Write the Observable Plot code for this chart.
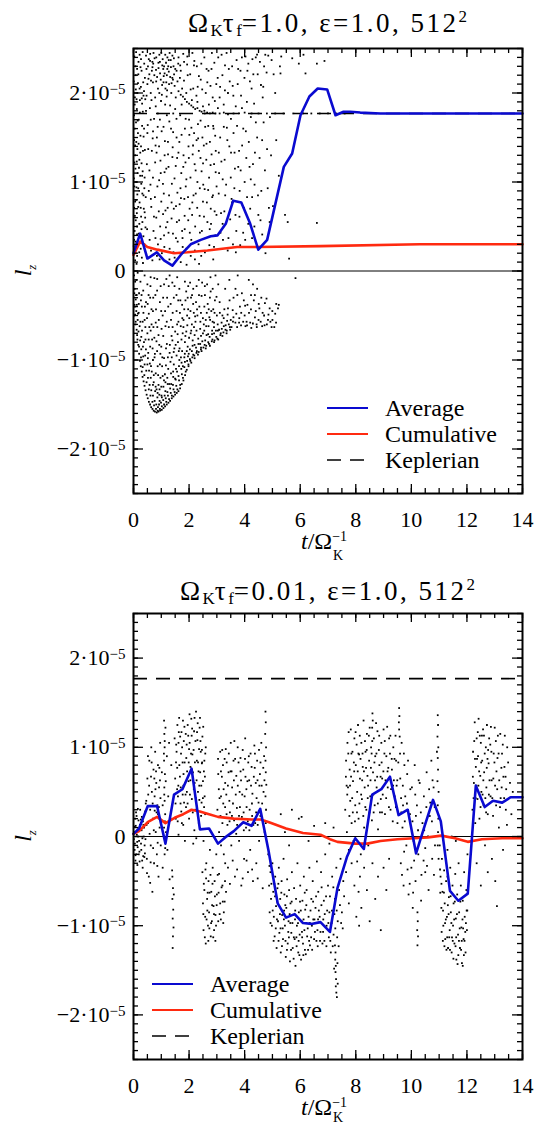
<!DOCTYPE html>
<html><head><meta charset="utf-8">
<script src="https://cdn.jsdelivr.net/npm/d3@7"></script>
<script src="https://cdn.jsdelivr.net/npm/@observablehq/plot@0.6"></script>
<style>
body{margin:0;background:#fff;}
#wrap{position:relative;width:537px;height:1124px;overflow:hidden;font-family:"Liberation Serif","Times New Roman",Times,"DejaVu Serif",serif;color:#000;}
.title{position:absolute;left:133px;width:389px;text-align:center;font-size:27px;line-height:26px;letter-spacing:2.5px;white-space:nowrap;}
.title sub{font-size:17px;vertical-align:-4px;line-height:0;letter-spacing:0}
.title sup{font-size:17px;vertical-align:10px;line-height:0;letter-spacing:0}
.panel{position:absolute;left:0;}
</style></head><body>
<div id="wrap">
<div class="title" style="top:10px">Ω<sub>K</sub>τ<sub>f</sub>=1.0, ε=1.0, 512<sup>2</sup></div>
<div class="panel" id="p1" style="top:40px"></div>
<div class="title" style="top:578px">Ω<sub>K</sub>τ<sub>f</sub>=0.01, ε=1.0, 512<sup>2</sup></div>
<div class="panel" id="p2" style="top:604px"></div>
</div>
<script>
// ---------- data (y in units of 1e-5) ----------
const xTicks = [0, 2, 4, 6, 8, 10, 12, 14];
const yTicks = [-2, -1, 0, 1, 2];
const yTickLabels = ["−2·10", "−1·10", "0", "1·10", "2·10"];
const yTickExponent = "−5";
const keplerian = 1.77;
const legendLabels = ["Average", "Cumulative", "Keplerian"];

const avgTop = [[0,0.2],[0.24,0.42],[0.5,0.14],[0.84,0.21],[1.1,0.12],[1.4,0.06],[1.7,0.18],[2.06,0.30],[2.42,0.35],[2.78,0.39],[3.02,0.40],[3.32,0.53],[3.59,0.79],[3.88,0.77],[4.19,0.54],[4.49,0.24],[4.81,0.35],[5.11,0.76],[5.41,1.17],[5.71,1.32],[6.01,1.75],[6.33,1.96],[6.63,2.05],[6.97,2.04],[7.27,1.75],[7.56,1.79],[7.8,1.79],[8.16,1.78],[8.88,1.77],[14,1.77]];
const cumTop = [[0,0.18],[0.24,0.33],[0.5,0.27],[0.86,0.24],[1.46,0.20],[1.94,0.21],[2.66,0.23],[3.73,0.27],[4.45,0.27],[6.73,0.28],[10.3,0.30],[14,0.30]];

const avgBottom = [[0,0.03],[0.2,0.09],[0.51,0.34],[0.85,0.34],[1.15,-0.08],[1.46,0.47],[1.76,0.53],[2.09,0.76],[2.39,0.08],[2.72,0.09],[3.04,-0.08],[3.3,-0.01],[3.61,0.06],[3.95,0.16],[4.25,0.12],[4.56,0.31],[4.86,-0.16],[5.19,-0.75],[5.49,-0.91],[5.8,-0.87],[6.1,-0.97],[6.4,-0.98],[6.73,-0.96],[7.07,-1.07],[7.34,-0.58],[7.68,-0.23],[7.98,-0.02],[8.29,-0.14],[8.59,0.47],[8.92,0.53],[9.23,0.67],[9.54,0.24],[9.87,0.30],[10.17,-0.19],[10.47,0.11],[10.78,0.41],[11.06,0.17],[11.39,-0.61],[11.69,-0.72],[12.03,-0.64],[12.32,0.57],[12.64,0.33],[12.94,0.40],[13.27,0.38],[13.57,0.44],[14,0.44]];
const cumBottom = [[0,0.03],[0.2,0.06],[0.51,0.16],[0.85,0.22],[1.15,0.15],[1.48,0.21],[1.79,0.25],[2.09,0.30],[2.39,0.28],[2.72,0.25],[3.04,0.22],[3.61,0.20],[4.25,0.19],[4.58,0.19],[4.88,0.16],[5.49,0.09],[6.1,0.04],[6.73,0.02],[7.07,-0.03],[7.34,-0.06],[7.98,-0.08],[8.41,-0.08],[8.89,-0.05],[9.5,-0.03],[10.1,-0.02],[10.6,-0.01],[11.08,0.01],[11.57,-0.02],[12.03,-0.06],[12.54,-0.03],[13.27,-0.02],[14,-0.02]];

const dotsTop = [
[0.03,2.41],[0.08,2.2],[0.05,1.95],[0.12,1.82],[0.04,1.6],[0.1,1.45],[0.06,1.3],[0.15,1.1],[0.03,0.95],[0.09,0.8],[0.05,0.62],[0.13,0.5],[0.02,0.35],[0.08,0.2],[0.11,0.08],[0.18,2.35],[0.22,2.05],[0.19,1.7],[0.25,1.52],[0.21,1.25],[0.28,0.98],[0.17,0.72],[0.24,0.4],[0.3,0.15],[0.33,2.46],[0.35,2.12],[0.31,1.88],[0.38,1.6],[0.34,1.35],[0.4,1.05],[0.36,0.85],[0.32,0.55],[0.39,0.3],[0.07,2.3],[0.14,2.0],[0.02,1.75],[0.16,1.55],[0.07,1.15],[0.2,0.9],[0.12,0.65],[0.26,0.25],[0.04,0.45],[0.29,2.25],[0.23,1.92],[0.27,1.4],[0.1,1.0],[0.37,0.7],[0.15,0.3],[0.06,0.12],[0.33,1.12],
[0.45,2.42],[0.52,2.3],[0.6,2.44],[0.68,2.35],[0.75,2.2],[0.82,2.4],[0.9,2.28],[0.98,2.15],[1.05,2.38],[1.12,2.22],[1.18,2.12],[1.25,2.3],[1.32,2.18],[1.4,2.42],[1.48,2.08],[1.55,2.25],[0.5,2.1],[0.62,2.0],[0.7,2.12],[0.78,1.95],[0.88,2.05],[0.95,2.35],[1.02,1.98],[1.1,2.3],[1.15,2.05],[1.22,2.4],[1.28,2.1],[1.36,2.0],[1.44,2.3],[1.52,1.95],[0.55,2.38],[0.72,2.45],[0.85,2.18],[1.0,2.45],[1.08,2.12],[1.2,2.2],[1.3,2.45],[1.42,2.15],[0.93,2.0],[0.66,2.25],
[0.45,1.8],[0.5,1.55],[0.48,1.2],[0.55,0.9],[0.42,0.6],[0.58,0.35],[0.62,1.7],[0.66,1.35],[0.7,1.05],[0.64,0.72],[0.72,0.45],[0.68,0.12],[0.8,1.85],[0.84,1.5],[0.78,1.22],[0.86,0.95],[0.82,0.6],[0.88,0.3],[0.95,1.7],[0.92,1.4],[0.98,1.1],[1.0,0.78],[0.96,0.5],[1.02,0.2],[1.08,1.62],[1.12,1.3],[1.06,0.98],[1.15,0.68],[1.1,0.4],[1.2,1.75],[1.24,1.45],[1.18,1.15],[1.28,0.85],[1.22,0.55],[1.3,0.25],[1.35,1.6],[1.4,1.28],[1.38,0.98],[1.45,0.7],[1.42,0.42],[1.5,1.82],[1.55,1.5],[1.52,1.18],[1.58,0.88],[1.56,0.55],[1.48,0.15],
[1.62,2.02],[1.7,1.98],[1.78,1.96],[1.85,1.93],[1.92,1.9],[2.0,1.88],[2.08,1.86],[2.15,1.84],[2.22,1.82],[2.3,1.83],[2.38,1.8],[2.45,1.79],[2.55,1.8],[2.65,1.78],[2.75,1.77],[2.85,1.78],[2.95,1.77],[3.1,1.77],[3.25,1.78],[3.4,1.76],[3.6,1.77],[3.8,1.77],[4.0,1.78],[4.25,1.77],[4.5,1.77],[4.8,1.77],[5.1,1.77],[5.4,1.77],[5.75,1.77],[6.1,1.77],[6.4,1.77],[6.7,1.77],[7.0,1.77],[7.3,1.77],[7.6,1.77],[1.75,2.05],[1.9,2.0],[2.1,1.92],[2.3,1.9],[2.5,1.85],
[1.62,2.4],[1.7,2.25],[1.68,1.75],[1.65,1.45],[1.72,1.1],[1.66,0.75],[1.75,0.45],[1.7,0.1],[1.82,2.35],[1.85,1.6],[1.8,1.3],[1.88,0.95],[1.84,0.62],[1.9,0.25],[1.95,2.2],[2.0,1.7],[1.98,1.4],[2.05,1.05],[2.02,0.7],[2.08,0.35],[2.12,2.45],[2.15,2.05],[2.18,1.55],[2.2,1.2],[2.16,0.85],[2.22,0.5],[2.28,2.3],[2.32,1.65],[2.35,1.35],[2.3,1.0],[2.38,0.62],[2.34,0.3],[2.42,2.15],[2.48,1.5],[2.45,1.12],[2.5,0.78],[2.46,0.45],[2.55,2.4],[2.6,2.0],[2.58,1.62],[2.62,1.25],[2.56,0.92],[2.66,0.55],[2.7,2.25],[2.75,1.45],[2.72,1.05],[2.78,0.7],[2.82,2.45],[2.85,1.95],[2.88,1.6],[2.9,1.2],[2.86,0.85],[2.95,0.4],[2.98,2.1],[2.96,1.35],[2.99,0.95],
[3.05,2.4],[3.1,1.95],[3.12,1.5],[3.08,1.1],[3.15,0.65],[3.2,2.2],[3.25,1.62],[3.28,1.25],[3.3,0.85],[3.35,2.45],[3.4,2.0],[3.45,1.4],[3.5,1.05],[3.48,0.58],[3.55,2.3],[3.6,1.55],[3.65,1.15],[3.7,0.45],[3.75,2.1],[3.8,1.35],[3.82,0.9],[3.9,2.4],[3.95,1.6],[4.0,1.0],[4.02,0.35],[4.1,2.25],[4.15,1.45],[4.2,0.7],[4.25,2.05],[4.3,1.2],[4.35,0.5],[4.4,2.4],[4.45,1.5],[4.48,0.85],[3.58,0.3],[3.85,2.25],[4.08,1.9],[3.68,1.85],[3.22,0.35],[4.28,2.38],
[4.55,2.35],[4.65,1.95],[4.6,0.9],[4.7,2.3],[4.75,0.2],[4.85,2.42],[4.95,1.3],[5.27,2.3],[5.29,2.22],[5.55,0.55],[5.6,0.14],[5.83,-0.08],[5.95,2.33],[6.19,2.22],[6.6,2.33],[6.6,0.54],[4.9,0.55],[5.1,2.0],
[0.02,-0.05],[0.04,-0.2],[0.08,-0.32],[0.1,-0.45],[0.15,-0.55],[0.18,-0.68],[0.24,-0.78],[0.28,-0.88],[0.35,-0.96],[0.4,-1.05],[0.46,-1.12],[0.52,-1.2],[0.58,-1.28],[0.64,-1.34],[0.7,-1.4],[0.76,-1.46],[0.82,-1.5],[0.88,-1.53],[0.95,-1.55],[1.02,-1.52],[1.1,-1.5],[1.18,-1.47],[1.28,-1.44],[1.38,-1.4],[1.48,-1.36],[1.58,-1.33],[1.68,-1.28],[1.78,-1.2],[1.88,-1.13],[1.98,-1.07],[2.08,-1.03],[2.2,-0.98],[2.32,-0.94],[2.45,-0.9],[2.6,-0.87],[2.75,-0.84],[2.9,-0.8],[3.05,-0.77],[3.2,-0.73],[3.35,-0.7],[3.48,-0.66],
[0.06,-0.12],[0.12,-0.38],[0.16,-0.48],[0.22,-0.62],[0.28,-0.74],[0.34,-0.85],[0.42,-0.95],[0.5,-1.05],[0.56,-1.12],[0.62,-1.2],[0.7,-1.28],[0.78,-1.35],[0.86,-1.42],[0.94,-1.46],[1.02,-1.42],[1.12,-1.4],[1.22,-1.36],[1.32,-1.32],[1.42,-1.28],[1.52,-1.22],[1.62,-1.18],[1.72,-1.1],[1.85,-1.02],[1.96,-0.96],[2.1,-0.9],[2.25,-0.86],[2.4,-0.82],[2.58,-0.78],[2.74,-0.74],[2.9,-0.7],[3.08,-0.66],[3.25,-0.62],
[0.1,-0.1],[0.2,-0.25],[0.3,-0.4],[0.4,-0.55],[0.5,-0.7],[0.6,-0.85],[0.7,-1.0],[0.8,-1.15],[0.9,-1.28],[1.0,-1.3],[0.25,-0.12],[0.35,-0.22],[0.45,-0.35],[0.55,-0.48],[0.65,-0.6],[0.75,-0.75],[0.85,-0.9],[0.95,-1.05],[1.05,-1.18],[1.15,-1.25],[1.25,-1.1],[1.35,-1.15],[1.45,-1.05],[1.55,-0.95],[1.65,-1.0],[1.75,-0.9],[1.85,-0.8],[1.95,-0.85],[0.5,-0.15],[0.6,-0.3],[0.7,-0.45],[0.8,-0.58],[0.9,-0.72],[1.0,-0.85],[1.1,-0.98],[1.2,-0.82],[1.3,-0.92],[1.4,-0.78],[1.5,-0.68],[1.6,-0.8],[1.7,-0.62],[1.8,-0.55],[1.9,-0.68],[2.0,-0.75],[2.1,-0.6],[2.2,-0.72],[2.3,-0.5],[2.4,-0.65],[2.5,-0.7],[2.6,-0.55],[2.7,-0.62],[2.8,-0.45],[2.9,-0.58],[3.0,-0.5],[0.75,-0.08],[0.85,-0.22],[0.95,-0.35],[1.05,-0.5],[1.15,-0.62],[1.25,-0.4],[1.35,-0.55],[1.45,-0.3],[1.55,-0.45],[1.65,-0.2],[1.75,-0.38],[1.85,-0.12],[1.95,-0.3],[2.05,-0.45],[2.15,-0.2],[2.25,-0.35],[2.35,-0.1],[2.45,-0.28],[2.55,-0.4],[2.65,-0.15],[2.75,-0.3],[2.85,-0.2],[2.95,-0.05],[3.1,-0.35],[3.2,-0.5],[3.3,-0.2],[3.4,-0.42],[3.5,-0.55],[3.6,-0.3],[3.7,-0.48],[3.8,-0.58],[3.9,-0.25],[4.0,-0.5],[4.1,-0.38],[4.2,-0.58],[4.3,-0.15],[4.4,-0.45],[4.5,-0.55],[4.6,-0.3],[4.7,-0.5],[4.8,-0.6],[4.9,-0.42],[5.0,-0.55],[5.1,-0.48],[5.2,-0.42],[4.45,-0.2],[4.15,-0.1],[3.75,-0.05],[3.45,-0.1],[3.05,-0.15],[1.1,-0.15],[1.3,-0.05],[0.4,-0.05],[0.15,-0.02],[0.05,-0.4],[0.03,-0.25]
];
const dotsTopMore = [
[0.13,2.27],[0.27,2.38],[0.41,2.17],[0.57,2.21],[0.71,2.33],[0.93,2.43],[1.07,2.27],[1.17,2.34],[1.27,2.24],[1.34,2.37],[1.46,2.21],[1.61,2.33],[0.63,2.14],[0.81,2.26],[1.03,2.09],[1.21,2.03],[1.37,2.11],[0.47,1.97],[0.59,1.83],[0.74,1.71],[0.87,1.62],[0.99,1.91],[1.14,1.87],[1.29,1.68],[1.43,1.77],[0.53,1.37],[0.69,1.49],[0.83,1.33],[0.97,1.24],[1.13,1.46],[1.26,1.17],[1.41,1.39],[1.57,1.27],[0.44,0.83],[0.61,0.97],[0.77,0.83],[0.91,0.67],[1.09,0.87],[1.23,0.71],[1.37,0.59],[1.53,0.73],[0.49,0.47],[0.63,0.23],[0.79,0.37],[0.94,0.13],[1.11,0.27],[1.26,0.43],[1.44,0.21],[1.59,0.33],
[0.01,2.13],[0.09,1.67],[0.14,1.37],[0.03,1.22],[0.17,0.93],[0.08,0.57],[0.21,0.53],[0.01,0.28],[0.13,0.17],[0.26,0.71],[0.31,1.63],[0.36,1.97],[0.22,2.43],[0.02,1.47],[0.11,1.93],[0.19,0.42],[0.29,1.21],[0.39,0.93],[0.06,0.78],[0.24,1.07],
[1.67,2.17],[1.79,2.44],[1.93,2.32],[2.04,2.21],[2.19,2.36],[2.31,2.07],[2.44,2.33],[2.63,2.27],[2.77,2.08],[2.91,2.34],[1.73,1.53],[1.87,1.22],[2.01,1.53],[2.13,1.31],[2.27,1.47],[2.41,1.27],[2.53,1.41],[2.69,1.63],[2.81,1.31],[2.94,1.52],[1.69,0.93],[1.83,0.81],[1.97,0.57],[2.11,0.63],[2.24,0.87],[2.39,0.43],[2.51,0.97],[2.64,0.77],[2.79,0.53],[2.92,0.67],[1.77,0.27],[1.91,0.07],[2.06,0.17],[2.21,0.13],[2.36,0.08],[2.57,0.21],[2.73,0.29],[2.87,0.13],
[3.03,2.17],[3.17,2.43],[3.29,2.03],[3.43,2.27],[3.57,2.08],[3.71,2.37],[3.87,1.97],[4.03,2.41],[4.19,2.13],[4.34,1.88],[4.47,2.21],[3.07,1.33],[3.21,1.03],[3.36,1.61],[3.51,1.33],[3.63,0.93],[3.77,1.17],[3.91,1.41],[4.06,1.27],[4.22,1.03],[4.37,1.33],[3.13,0.43],[3.27,0.67],[3.39,0.23],[3.53,0.81],[3.67,0.63],[3.84,0.29],[3.97,0.71],[4.13,0.53],[4.27,0.83],[4.41,0.27],[4.57,0.57],[4.63,1.47],[4.73,1.13],[4.83,0.93],[4.91,1.73],[4.67,2.07],[4.79,2.23],[4.97,2.37],[5.23,1.07],[5.02,0.73],
[0.07,-0.6],[0.13,-0.72],[0.2,-0.85],[0.27,-0.97],[0.33,-1.08],[0.39,-1.17],[0.47,-1.25],[0.55,-1.33],[0.61,-1.4],[0.68,-1.47],[0.74,-1.51],[0.81,-1.55],[0.87,-1.57],[0.92,-1.5],[0.99,-1.48],[1.07,-1.45],[1.16,-1.43],[1.24,-1.4],[1.34,-1.37],[1.44,-1.33],[1.54,-1.29],[1.64,-1.23],[1.74,-1.16],[1.83,-1.08],[1.93,-1.01],[2.03,-0.99],[2.15,-0.94],[2.28,-0.9],[2.43,-0.86],[2.56,-0.83],[2.69,-0.8],[2.84,-0.77],[2.98,-0.74],[3.14,-0.7],[3.31,-0.66],[3.43,-0.6],[3.58,-0.57],[3.73,-0.63],[3.87,-0.61],[4.03,-0.62],[4.24,-0.64],[4.43,-0.6],[4.63,-0.62],[4.84,-0.55],[4.97,-0.63],[5.13,-0.58],[5.23,-0.38],[4.73,-0.36],[4.53,-0.42],[4.33,-0.33],[0.33,-0.57],[0.43,-0.77],[0.53,-0.92],[0.63,-1.07],[0.73,-1.17],[0.83,-1.33],[0.93,-1.39],[1.03,-1.07],[1.13,-1.16],[1.23,-1.27],[1.33,-1.02],[1.43,-1.19],[1.53,-1.1],[1.63,-0.9],[1.73,-1.03],[1.83,-0.97],[1.93,-0.5],[2.03,-0.88],[2.13,-0.78],[2.23,-0.57],[2.33,-0.76],[2.43,-0.73],[2.53,-0.6],[2.63,-0.72],[2.73,-0.52],[2.83,-0.67],[2.93,-0.33],[3.03,-0.6],[3.17,-0.58],[3.27,-0.43],[3.37,-0.56],[3.57,-0.44],[3.67,-0.2],[3.83,-0.4],[3.97,-0.33],[4.07,-0.57],[4.23,-0.27],[4.37,-0.52],[0.57,-0.63],[0.67,-0.77],[0.77,-0.93],[0.87,-1.07],[0.97,-1.2],[1.07,-0.73],[1.17,-0.87],[1.27,-0.63],[1.37,-0.73],[1.47,-0.87],[1.57,-0.6],[1.67,-0.47],[1.77,-0.7],[1.87,-0.33],[1.97,-0.17],[2.07,-0.3],[2.17,-0.47],[2.27,-0.17],[2.37,-0.4],[2.47,-0.13],[2.57,-0.27],[2.67,-0.37],[2.77,-0.07],[2.87,-0.43],[0.03,-0.5],[0.09,-0.27],[0.19,-0.37],[0.29,-0.27],[0.41,-0.4],[0.51,-0.37],[0.61,-0.17],[0.71,-0.3],[0.81,-0.43],[0.91,-0.55],[1.01,-0.65],[1.21,-0.3],[1.41,-0.47],[1.61,-0.33]
];
const dotsTopExtra = [
[0.016,1.04],[0.043,1.87],[0.071,0.33],[0.094,2.46],[0.117,1.23],[0.138,0.86],[0.161,2.11],[0.183,1.43],[0.206,0.21],[0.229,1.78],[0.252,2.29],[0.274,0.61],[0.297,1.94],[0.318,0.87],[0.341,0.09],[0.363,1.51],[0.386,2.33],[0.409,1.36],[0.431,0.49],[0.024,0.71],[0.057,1.41],[0.083,2.04],[0.106,0.94],[0.128,0.41],[0.152,1.69],[0.174,2.21],[0.197,1.16],[0.219,0.77],[0.243,1.33],[0.266,2.07],[0.288,0.47],[0.311,1.07],[0.334,1.79],[0.356,0.39],[0.378,2.02],[0.401,0.66],[0.424,1.93],
[0.467,2.27],[0.512,1.64],[0.538,2.16],[0.573,1.13],[0.596,2.36],[0.624,0.81],[0.647,1.92],[0.682,2.29],[0.703,1.57],[0.736,0.61],[0.758,2.39],[0.794,1.41],[0.817,2.13],[0.843,0.17],[0.874,1.77],[0.897,2.34],[0.923,1.02],[0.956,2.22],[0.978,0.36],[1.013,1.57],[1.036,2.31],[1.064,0.64],[1.087,2.19],[1.118,1.11],[1.143,2.43],[1.167,0.49],[1.193,1.96],[1.217,2.27],[1.243,1.31],[1.268,2.37],[1.294,0.13],[1.318,1.86],[1.347,2.29],[1.371,0.77],[1.397,2.17],[1.426,1.56],[1.453,2.39],[1.476,1.04],[1.503,2.27],[1.528,0.37],[1.547,1.71],[1.583,2.13],
[1.617,1.33],[1.643,0.57],[1.681,2.31],[1.707,0.82],[1.733,1.87],[1.764,0.37],[1.792,1.17],[1.817,2.14],[1.843,0.47],[1.877,1.71],[1.903,1.03],[1.937,2.41],[1.962,0.83],[1.991,1.27],[2.026,0.43],[2.057,2.04],[2.083,1.61],[2.117,0.77],[2.143,1.41],[2.176,2.31],[2.207,0.23],[2.236,1.13],[2.264,1.97],[2.293,0.71],[2.327,1.49],[2.353,2.19],[2.386,0.93],[2.414,1.69],[2.437,0.17],[2.473,2.04],[2.503,1.21],[2.537,0.61],[2.563,1.77],[2.597,0.37],[2.627,1.43],[2.657,2.12],[2.687,0.91],[2.713,1.87],[2.743,0.47],[2.773,1.19],[2.807,2.27],[2.833,0.83],[2.867,1.63],[2.897,0.27],[2.927,1.91],[2.957,1.11],[2.986,0.63],
[3.037,1.83],[3.067,0.87],[3.117,2.07],[3.163,1.23],[3.207,0.53],[3.247,1.87],[3.293,2.31],[3.333,0.97],[3.377,1.47],[3.417,0.37],[3.463,2.13],[3.507,1.71],[3.547,0.77],[3.593,1.97],[3.637,1.33],[3.683,0.21],[3.727,1.63],[3.767,2.27],[3.813,0.61],[3.857,1.13],[3.903,1.83],[3.947,0.43],[3.993,2.17],[4.043,1.57],[4.087,0.83],[4.133,2.33],[4.177,1.17],[4.223,1.73],[4.267,0.37],[4.313,2.21],[4.357,0.97],[4.403,1.67],[4.447,2.43],[4.493,0.63],[4.537,1.27],[4.587,2.09],[4.633,0.41],[4.683,1.67],[4.743,2.43],[4.807,1.37],[4.873,0.71],[5.043,2.21],[5.137,1.47],[5.317,2.41],[5.453,0.63],[5.713,2.39],[6.117,2.43],[6.873,2.36],
[0.036,-0.38],[0.057,-0.49],[0.078,-0.57],[0.113,-0.66],[0.142,-0.77],[0.171,-0.83],[0.203,-0.93],[0.232,-1.01],[0.262,-1.07],[0.297,-1.13],[0.327,-1.19],[0.363,-1.24],[0.397,-1.29],[0.434,-1.34],[0.473,-1.39],[0.513,-1.43],[0.553,-1.47],[0.597,-1.5],[0.637,-1.53],[0.683,-1.55],[0.727,-1.57],[0.773,-1.58],[0.837,-1.59],[0.897,-1.58],[0.957,-1.57],[1.017,-1.56],[1.077,-1.54],[1.137,-1.52],[1.197,-1.5],[1.257,-1.48],[1.317,-1.46],[1.377,-1.43],[1.437,-1.41],[1.497,-1.39],[1.557,-1.37],[1.617,-1.35],[1.677,-1.32],[1.737,-1.27],[1.797,-1.23],[1.857,-1.17],[1.917,-1.11],[1.977,-1.05],[2.047,-1.01],[2.117,-0.97],[2.187,-0.95],[2.267,-0.92],[2.347,-0.91],[2.427,-0.88],[2.517,-0.86],[2.617,-0.84],[2.717,-0.82],[2.817,-0.79],[2.917,-0.78],[3.017,-0.76],[3.127,-0.72],[3.237,-0.69],[3.357,-0.67],[3.467,-0.63],
[0.117,-0.27],[0.187,-0.47],[0.247,-0.57],[0.307,-0.67],[0.377,-0.8],[0.447,-0.88],[0.517,-0.98],[0.587,-1.04],[0.657,-1.13],[0.727,-1.25],[0.797,-1.3],[0.867,-1.37],[0.937,-1.33],[1.007,-1.4],[1.077,-1.3],[1.147,-1.35],[1.217,-1.2],[1.287,-1.27],[1.357,-1.27],[1.427,-1.13],[1.497,-1.21],[1.567,-1.13],[1.637,-1.07],[1.707,-0.97],[1.777,-1.07],[1.847,-0.93],[1.917,-0.9],[1.987,-0.93],[2.057,-0.7],[2.127,-0.84],[2.197,-0.83],[2.267,-0.67],[2.337,-0.82],[2.407,-0.57],[2.477,-0.79],[2.547,-0.67],[2.617,-0.62],[2.687,-0.71],[2.757,-0.55],[2.827,-0.71],[2.897,-0.63],[2.967,-0.67],[3.037,-0.67],[3.107,-0.47],[3.177,-0.65],[3.247,-0.53],[3.317,-0.61],[3.387,-0.49],[3.457,-0.33],[3.527,-0.63],[3.597,-0.52],[3.667,-0.58],[3.737,-0.27],[3.807,-0.53],[3.877,-0.47],[3.947,-0.57],[4.017,-0.39],[4.087,-0.61],[4.157,-0.47],[4.227,-0.43],[4.297,-0.59],[4.367,-0.27],[4.437,-0.63],[4.507,-0.37],[4.577,-0.57],[4.647,-0.47],[4.717,-0.61],[4.787,-0.31],[4.857,-0.49],[4.927,-0.57],[4.997,-0.45],[5.067,-0.63],[5.137,-0.37],[0.267,-0.33],[0.357,-0.47],[0.427,-0.63],[0.487,-0.53],[0.547,-0.77],[0.617,-0.67],[0.687,-0.87],[0.757,-0.97],[0.827,-0.79],[0.887,-1.17],[0.967,-0.93],[1.037,-0.97],[1.097,-1.23],[1.167,-1.06],[1.237,-0.97],[1.307,-0.83],[1.377,-0.97],[1.447,-0.91],[1.517,-0.83],[1.587,-0.71],[1.657,-0.87],[1.727,-0.77],[1.797,-0.63],[1.867,-0.73],[1.937,-0.61],[2.007,-0.53],[2.077,-0.67],[2.147,-0.37],[2.217,-0.51],[2.287,-0.43],[2.357,-0.27],[2.427,-0.47],[2.497,-0.53],[2.567,-0.17],[2.637,-0.47],[2.707,-0.43],[2.777,-0.23],[2.847,-0.57],[2.917,-0.47],[2.987,-0.29],[0.647,-0.43],[0.717,-0.63],[0.787,-0.27],[0.857,-0.63],[0.927,-0.83],[0.997,-0.45],[1.067,-0.3],[1.137,-0.45],[1.197,-0.57],[1.267,-0.17],[1.337,-0.37],[1.407,-0.63],[1.477,-0.17],[1.547,-0.27],[1.617,-0.57],[1.687,-0.33],[1.757,-0.53],[1.827,-0.43],[1.897,-0.23],[1.967,-0.43],[2.037,-0.13],[2.107,-0.27],[2.177,-0.63],[0.543,-0.27],[0.617,-0.07],[0.853,-0.09],[0.977,-0.17],[1.183,-0.09],[1.397,-0.13],[1.573,-0.07]
];

const dotsBottom = [
[0.02,0.05],[0.05,-0.08],[0.08,0.12],[0.1,-0.2],[0.12,0.02],[0.15,-0.12],[0.18,0.18],[0.2,-0.05],[0.22,-0.28],[0.25,0.08],[0.28,-0.15],[0.3,0.22],[0.32,-0.02],[0.35,-0.22],[0.38,0.1],[0.4,-0.1],[0.42,0.28],[0.06,0.2],[0.14,-0.32],[0.24,0.3],[0.33,-0.35],[0.04,-0.15],[0.17,0.0],[0.27,-0.08],[0.37,0.0],
[0.46,0.4],[0.48,-0.25],[0.5,0.65],[0.52,0.15],[0.55,-0.45],[0.57,0.85],[0.6,0.3],[0.62,-0.1],[0.64,1.0],[0.66,0.5],[0.68,-0.62],[0.7,0.2],[0.72,0.75],[0.74,-0.3],[0.76,0.45],[0.78,0.95],[0.8,0.05],[0.82,0.6],[0.84,-0.2],[0.86,0.35],[0.88,0.8],[0.9,-0.45],[0.92,0.55],[0.94,0.1],[0.96,1.05],[0.98,-0.1],[0.52,0.9],[0.6,-0.52],[0.75,0.65],[0.88,0.25],
[1.1,1.3],[1.11,1.15],[1.12,1.0],[1.1,0.85],[1.13,0.7],[1.11,0.55],[1.12,0.4],[1.14,0.25],[1.1,0.1],[1.13,-0.05],[1.12,-0.2],[1.15,1.22],[1.16,0.62],[1.17,0.05],
[1.4,-0.45],[1.42,-0.58],[1.4,-0.7],[1.43,-0.82],[1.41,-0.92],[1.44,-1.02],[1.42,-1.12],[1.41,-1.25],[1.45,-0.65],[1.39,-0.38],
[1.02,0.72],[1.05,-0.35],[1.2,0.9],[1.22,-0.15],[1.25,0.45],[1.28,1.05],[1.3,-0.48],[1.33,0.2],[1.36,0.8],[1.05,0.35],
[1.48,1.1],[1.5,0.65],[1.52,0.2],[1.55,0.95],[1.58,1.25],[1.6,0.45],[1.62,0.02],[1.65,0.8],[1.68,1.12],[1.7,0.55],[1.72,0.28],[1.75,1.0],[1.78,1.3],[1.8,0.7],[1.82,0.38],[1.85,-0.05],[1.88,1.15],[1.9,0.88],[1.92,0.5],[1.95,1.25],[1.98,0.62],[2.0,0.2],[2.02,1.05],[2.05,0.78],[2.08,1.32],[2.1,0.42],[2.12,0.92],[2.15,-0.08],[2.18,1.18],[2.2,0.6],[2.22,0.3],[2.25,1.4],[2.28,0.85],[2.3,1.08],[2.32,0.5],[2.35,0.15],[2.38,1.22],[2.4,0.72],[2.42,0.95],[2.45,0.38],[2.48,1.12],[2.5,0.62],[2.52,-0.05],[2.55,0.85],[2.58,0.25],[2.6,1.0],[1.62,1.05],[1.74,0.15],[1.86,0.6],[2.0,0.98],[2.14,0.72],[2.26,-0.02],[2.36,0.98],[2.46,0.82],[2.56,0.45],
[2.48,-0.4],[2.5,-0.75],[2.52,-1.05],[2.55,-0.6],[2.58,-0.9],[2.6,-1.2],[2.62,-0.3],[2.65,-0.7],[2.68,-1.0],[2.7,-0.5],[2.72,-0.85],[2.75,-0.15],[2.78,-1.12],[2.8,-0.62],[2.82,-0.95],[2.85,-0.35],[2.88,-0.78],[2.9,-1.05],[2.92,-0.5],[2.95,-0.88],[2.98,-0.2],[3.0,-0.65],[3.05,-0.95],[3.08,-0.42],[3.12,-0.75],[3.15,-0.1],[3.2,-0.55],[3.25,-0.85],[3.3,-0.3],[3.33,-0.62],
[3.02,0.3],[3.05,0.7],[3.08,0.05],[3.12,0.95],[3.15,0.45],[3.2,0.15],[3.22,0.8],[3.25,-0.2],[3.3,0.6],[3.32,0.98],[3.35,0.25],[3.4,-0.35],[3.42,0.72],[3.45,0.4],[3.5,1.05],[3.52,-0.1],[3.55,0.55],[3.6,0.85],[3.62,0.18],[3.65,-0.45],[3.7,0.68],[3.72,0.32],[3.75,1.0],[3.8,-0.05],[3.82,0.5],[3.85,0.88],[3.88,-0.55],[3.9,0.22],[3.95,0.75],[3.98,-0.25],[4.0,0.45],[4.02,1.1],[4.05,0.1],[4.1,0.62],[4.12,-0.4],[4.15,0.9],[4.18,0.3],[4.2,-0.15],[4.25,0.78],[4.28,0.48],[4.3,-0.5],[4.35,1.02],[4.38,0.15],[4.4,0.6],[4.42,-0.3],[4.45,0.85],[4.5,0.38],[4.52,-0.05],[4.55,0.7],[4.6,1.05],[4.62,0.2],[4.65,-0.58],[4.68,0.5],[4.7,0.9],[4.72,0.05],
[4.75,1.4],[4.76,1.28],[4.74,1.15],[4.77,1.0],[4.75,0.85],[4.76,0.72],[4.78,0.58],[4.75,0.45],[4.77,0.3],[4.76,0.15],
[4.85,-0.2],[4.88,-0.55],[4.9,-0.85],[4.93,-0.4],[4.95,-0.7],[4.98,-1.0],[5.0,-0.3],[5.03,-0.62],[5.05,-0.9],[5.08,-1.12],[5.1,-0.45],[5.13,-0.78],[5.15,-1.25],[5.18,-0.58],[5.2,-0.95],[5.23,-0.35],[5.25,-1.08],[5.28,-0.7],[5.3,-1.3],[5.33,-0.5],[5.35,-0.88],[5.38,-1.15],[5.4,-0.25],[5.43,-0.65],[5.45,-1.0],[5.48,-1.35],[5.5,-0.8],[5.53,-0.48],[5.55,-1.2],[5.58,-0.95],[5.6,-0.6],[5.63,-1.4],[5.65,-0.75],[5.68,-1.08],[5.7,-0.4],[5.73,-1.25],[5.75,-0.88],[5.78,-0.58],[5.8,-1.15],[5.83,-1.45],[5.85,-0.7],[5.88,-1.0],[5.9,-0.3],[5.93,-1.3],[5.95,-0.85],[5.98,-1.1],[6.0,-0.55],[6.03,-1.38],[6.05,-0.95],[6.08,-0.72],[6.1,-1.2],[6.13,-0.45],[6.15,-1.05],[6.18,-0.82],[6.2,-1.32],[6.23,-0.6],[6.25,-1.12],[6.3,-0.9],[6.33,-0.35],[6.35,-1.22],[6.4,-0.7],[6.42,-1.0],[6.45,-0.5],[6.5,-1.15],[6.55,-0.8],[6.6,-0.28],[6.62,-1.05],[6.65,-0.62],[6.7,-0.9],[6.75,-0.4],[6.8,-1.2],[6.85,-0.72],[6.9,-0.2],[6.95,-1.0],[7.0,-0.55],[7.05,-0.85],[7.1,-1.3],[7.15,-0.45],[7.2,-1.1],[7.25,-0.7],[7.3,-0.35],[7.35,-0.95],[7.4,-0.6],[7.45,-0.25],[7.5,-0.85],[7.55,-0.5],
[7.25,-1.22],[7.27,-1.3],[7.26,-1.38],[7.28,-1.45],[7.27,-1.52],[7.29,-1.6],[7.28,-1.68],[7.3,-1.75],[7.32,-1.8],[7.34,-1.42],[7.22,-1.48],[7.35,-1.65],
[5.3,0.25],[5.45,0.05],[5.6,-0.1],[5.7,0.3],[5.95,0.2],[6.05,0.22],[6.3,-0.05],[6.5,0.12],[6.9,0.15],[7.05,-0.08],[7.2,0.1],
[7.62,0.3],[7.65,0.85],[7.68,0.05],[7.7,1.05],[7.72,0.55],[7.75,-0.15],[7.78,0.75],[7.8,0.4],[7.82,1.2],[7.85,0.15],[7.88,0.95],[7.9,0.62],[7.92,-0.05],[7.95,1.1],[7.98,0.35],[8.0,0.8],[8.05,0.5],[8.08,1.25],[8.1,0.2],[8.12,0.92],[8.15,0.65],[8.18,-0.2],[8.2,1.05],[8.22,0.42],[8.25,0.78],[8.28,1.3],[8.3,0.1],[8.32,0.55],[8.35,0.95],[8.38,0.3],[8.4,1.15],[8.42,0.68],[8.45,-0.1],[8.48,0.85],[8.5,1.22],[8.52,0.45],[8.55,1.0],[8.58,0.18],[8.62,0.72],[8.65,1.1],[8.68,0.35],[8.7,0.9],[8.75,0.55],[8.78,1.18],[8.8,0.08],[8.85,0.8],[8.9,0.42],[8.92,1.05],[8.95,0.65],[9.0,1.2],[9.05,0.25],[9.1,0.9],[9.15,0.55],[9.2,1.1],[9.25,0.3],[9.3,0.75],[9.35,1.0],[9.4,0.45],[9.45,0.85],[9.5,0.15],[9.6,0.65],[9.65,1.05],[9.7,0.35],[9.75,0.8],
[8.6,1.38],[8.61,1.3],[8.59,1.22],[9.56,1.44],[9.57,1.35],[9.55,1.28],[9.56,1.2],[9.58,1.12],
[7.65,-0.4],[7.75,-0.75],[7.85,-0.3],[7.95,-0.55],[8.02,-0.9],[8.05,-0.28],[8.1,-0.62],[8.12,-1.0],[8.15,-0.45],[8.2,-0.8],[8.3,-0.35],[8.4,-0.6],[8.5,-0.95],[8.6,-0.3],[8.7,-0.7],[8.8,-0.45],[8.9,-1.05],[9.0,-0.35],[9.1,-0.6],[9.2,-0.25],
[9.62,-0.3],[9.68,0.1],[9.72,-0.55],[9.78,0.45],[9.82,-0.1],[9.85,0.7],[9.9,-0.65],[9.95,0.25],[10.0,-0.35],[10.02,0.55],[10.08,-0.05],[10.12,0.8],[10.15,-0.5],[10.2,0.35],[10.25,-0.2],[10.3,0.6],[10.35,-0.72],[10.4,0.15],[10.45,0.45],[10.5,-0.4],[10.55,0.72],[10.6,0.0],[10.62,-0.6],[10.68,0.38],[10.72,0.85],[10.75,-0.25],[10.8,0.55],[10.85,-0.1],[9.88,0.85],[10.05,-0.8],
[10.22,-0.85],[10.23,-0.95],[10.21,-1.05],[10.24,-1.12],[10.22,-1.22],
[10.95,1.36],[10.96,1.25],[10.94,1.12],[10.97,1.0],[10.95,0.88],[10.96,0.75],[10.94,0.62],[10.98,0.5],[10.95,0.35],[10.97,0.2],[10.96,0.05],[10.95,-0.1],[10.98,-0.25],[10.92,0.95],
[11.02,-0.1],[11.05,-0.45],[11.08,-0.8],[11.1,-0.25],[11.12,-0.62],[11.15,-1.0],[11.18,-0.38],[11.2,-0.75],[11.22,-1.15],[11.25,-0.5],[11.28,-0.9],[11.3,-0.15],[11.32,-1.25],[11.35,-0.68],[11.38,-1.05],[11.4,-0.35],[11.42,-0.85],[11.45,-1.3],[11.48,-0.55],[11.5,-1.0],[11.52,-0.75],[11.55,-1.2],[11.58,-0.42],[11.6,-0.92],[11.62,-1.38],[11.65,-0.65],[11.68,-1.1],[11.7,-0.3],[11.72,-0.85],[11.75,-1.25],[11.78,-0.55],[11.8,-1.02],[11.82,-1.42],[11.85,-0.72],[11.88,-1.15],[11.9,-0.4],[11.92,-0.9],[11.95,-1.3],[11.98,-0.6],[12.0,-1.05],[12.02,-0.2],[11.85,-1.45],[11.6,-0.05],[11.3,-0.45],[11.45,0.0],
[12.2,0.3],[12.22,0.95],[12.25,0.6],[12.28,1.28],[12.3,0.15],[12.32,0.78],[12.35,1.1],[12.38,0.42],[12.4,0.9],[12.42,1.32],[12.45,0.2],[12.48,0.68],[12.5,1.05],[12.52,0.5],[12.55,0.85],[12.58,1.2],[12.6,0.35],[12.62,0.72],[12.65,-0.1],[12.68,1.0],[12.7,0.55],[12.72,1.25],[12.75,0.25],[12.78,0.82],[12.8,1.1],[12.85,0.45],[12.88,0.95],[12.9,-0.25],[12.95,0.65],[13.0,1.22],[13.02,-0.5],[13.05,0.35],[13.08,-0.78],[13.1,0.88],[13.15,0.1],[13.2,1.15],[13.25,0.55],[13.3,-0.15],[13.35,0.78],[13.4,0.3],[13.45,1.0],[13.55,0.6],[13.6,0.25],[13.65,0.5],[12.35,-0.3],[12.5,-0.55],[12.75,-0.4]
];
const dotsBottomMore = [
[1.53,0.83],[1.57,0.53],[1.63,1.17],[1.67,0.67],[1.71,0.93],[1.77,0.47],[1.81,1.07],[1.84,0.83],[1.89,0.33],[1.93,0.73],[1.97,1.13],[2.03,0.47],[2.07,0.93],[2.11,1.21],[2.17,0.53],[2.21,0.83],[2.23,1.07],[2.27,0.63],[2.31,1.27],[2.34,0.73],[2.37,0.41],[2.41,1.07],[2.44,0.57],[2.47,0.83],[2.51,1.23],[2.54,0.33],[2.57,0.67],[1.59,0.17],[1.79,0.13],[2.19,0.07],
[3.07,0.53],[3.13,0.23],[3.18,0.67],[3.23,0.37],[3.28,0.87],[3.34,0.47],[3.38,0.13],[3.43,0.93],[3.47,0.27],[3.53,0.73],[3.58,0.37],[3.63,1.07],[3.68,0.47],[3.73,0.13],[3.78,0.83],[3.83,0.33],[3.87,0.63],[3.93,0.97],[3.97,0.07],[4.03,0.67],[4.07,0.33],[4.13,0.83],[4.17,0.07],[4.23,0.57],[4.27,0.23],[4.33,0.67],[4.37,0.93],[4.43,0.43],[4.47,0.13],[4.53,0.57],[4.57,0.83],[4.63,0.37],[4.67,0.77],[3.47,-0.53],[3.57,-0.27],[3.73,-0.37],[3.93,-0.47],[4.07,-0.27],[4.27,-0.37],[4.47,-0.47],
[4.93,-0.97],[5.01,-0.83],[5.07,-0.53],[5.12,-1.03],[5.17,-0.73],[5.22,-1.17],[5.27,-0.87],[5.32,-0.63],[5.37,-1.03],[5.42,-0.83],[5.47,-1.17],[5.52,-0.67],[5.57,-1.07],[5.62,-0.87],[5.67,-1.27],[5.72,-0.97],[5.77,-1.13],[5.82,-0.83],[5.87,-1.23],[5.92,-0.97],[5.97,-1.33],[6.02,-0.83],[6.07,-1.13],[6.12,-0.93],[6.17,-1.27],[6.22,-0.77],[6.27,-1.03],[6.32,-1.17],[6.37,-0.83],[6.43,-1.27],[6.47,-0.93],[6.53,-1.07],[6.57,-0.67],[6.63,-1.23],[6.67,-0.83],[6.73,-1.07],[6.77,-0.57],[6.83,-0.93],[6.87,-1.17],[6.93,-0.67],[6.97,-0.83],[7.03,-1.13],[7.07,-0.67],[7.13,-0.97],[7.17,-1.23],[7.23,-0.87],[7.33,-1.13],[7.43,-0.77],[7.53,-1.03],[7.58,-0.67],
[7.67,0.57],[7.73,0.93],[7.77,0.23],[7.83,0.67],[7.87,0.43],[7.93,0.83],[7.97,0.17],[8.03,1.03],[8.07,0.73],[8.13,0.37],[8.17,0.87],[8.23,0.63],[8.27,0.23],[8.33,1.07],[8.37,0.77],[8.43,0.43],[8.47,1.13],[8.53,0.63],[8.57,0.93],[8.63,0.47],[8.67,0.83],[8.73,1.27],[8.77,0.67],[8.83,0.97],[8.87,0.27],[8.93,0.83],[8.97,0.47],[9.03,0.93],[9.07,0.63],[9.13,1.23],[9.17,0.77],[9.23,0.93],[9.27,0.53],[9.33,0.17],[9.37,0.63],[9.43,1.13],[9.47,0.57],[9.53,0.83],[9.63,0.43],[9.73,0.93],
[11.04,-0.63],[11.09,-1.07],[11.14,-0.83],[11.19,-1.23],[11.24,-0.93],[11.29,-1.13],[11.34,-0.87],[11.39,-1.27],[11.44,-0.97],[11.49,-1.17],[11.54,-0.93],[11.59,-1.23],[11.64,-0.87],[11.69,-1.33],[11.74,-1.03],[11.79,-1.27],[11.84,-0.93],[11.89,-1.33],[11.94,-1.07],[11.99,-0.83],
[12.24,0.43],[12.29,0.87],[12.34,0.57],[12.39,1.17],[12.44,0.73],[12.49,0.33],[12.54,1.13],[12.59,0.63],[12.64,0.93],[12.69,0.27],[12.74,0.87],[12.79,0.47],[12.84,1.03],[12.89,0.63],[12.94,0.23],[12.99,0.83],[13.04,1.07],[13.09,0.53],[13.14,0.93],[13.19,0.33],[13.24,0.77],[13.29,1.03],[13.34,0.43],[13.39,0.67],[13.44,0.13],
[9.64,0.27],[9.74,-0.17],[9.84,0.37],[9.94,-0.53],[10.04,0.17],[10.14,0.47],[10.24,0.07],[10.34,0.27],[10.44,-0.27],[10.54,0.33],[10.64,0.53],[10.74,0.17],[10.84,0.33],[10.1,-0.27],[10.5,-0.13],
[0.47,0.13],[0.53,0.47],[0.58,0.03],[0.63,0.67],[0.69,0.37],[0.73,0.07],[0.79,0.53],[0.83,0.27],[0.87,-0.07],[0.93,0.77],[0.97,0.43],[0.07,-0.27],[0.11,0.23],[0.19,-0.2],[0.23,0.13],[0.29,0.07],[0.34,0.17],[0.39,-0.23],[0.43,-0.03],
[2.53,-0.53],[2.59,-0.37],[2.63,-0.93],[2.67,-0.63],[2.73,-1.03],[2.77,-0.43],[2.83,-0.77],[2.87,-1.13],[2.93,-0.67],[2.97,-1.0],[3.03,-0.43],[3.1,-0.87],[3.17,-0.57],[3.23,-0.97],[3.28,-0.73]
];
const dotsBottomExtra = [
[0.013,-0.03],[0.046,0.11],[0.069,-0.21],[0.091,0.27],[0.133,-0.06],[0.157,0.31],[0.213,-0.17],[0.263,0.19],[0.312,-0.27],[0.357,0.13],[0.411,-0.19],[0.441,0.37],[0.486,-0.41],[0.563,0.57],[0.617,-0.29],[0.653,0.83],[0.707,-0.13],[0.763,0.29],[0.811,0.73],[0.857,-0.33],[0.913,0.33],[0.953,0.63],[0.991,0.17],
[1.094,0.93],[1.107,0.47],[1.123,1.07],[1.131,0.17],[1.141,-0.13],
[1.513,0.37],[1.537,1.03],[1.573,0.77],[1.613,0.57],[1.643,1.33],[1.693,0.37],[1.727,1.17],[1.767,0.83],[1.797,0.57],[1.833,1.23],[1.873,0.47],[1.913,1.03],[1.947,0.37],[1.987,0.83],[2.017,1.37],[2.047,0.63],[2.093,1.13],[2.133,0.27],[2.163,0.97],[2.197,1.33],[2.243,0.43],[2.287,1.17],[2.323,0.83],[2.367,0.57],[2.393,1.33],[2.433,0.23],[2.463,0.97],[2.497,0.43],[2.533,0.73],[2.583,0.93],
[2.513,-0.87],[2.567,-1.13],[2.613,-0.47],[2.657,-0.83],[2.693,-1.17],[2.737,-0.63],[2.793,-0.97],[2.843,-0.53],[2.897,-0.87],[2.947,-1.17],[2.993,-0.77],[3.063,-0.63],[3.143,-0.93],[3.213,-0.73],[3.293,-0.5],
[3.043,0.87],[3.097,0.43],[3.147,0.73],[3.193,0.97],[3.243,0.53],[3.297,0.33],[3.353,0.83],[3.397,0.57],[3.457,0.17],[3.493,0.73],[3.543,0.23],[3.613,0.63],[3.657,0.87],[3.697,0.03],[3.753,0.57],[3.797,0.23],[3.853,0.73],[3.913,0.47],[3.963,0.27],[4.013,0.87],[4.063,0.53],[4.113,0.17],[4.163,0.63],[4.213,0.93],[4.263,0.37],[4.313,0.13],[4.363,0.77],[4.413,0.27],[4.463,0.63],[4.517,0.97],[4.567,0.23],[4.613,0.57],[4.663,0.17],[4.713,0.63],
[4.893,-0.33],[4.963,-0.53],[5.043,-1.17],[5.093,-0.67],[5.163,-0.93],[5.213,-0.53],[5.293,-1.03],[5.343,-1.23],[5.413,-0.93],[5.463,-0.77],[5.523,-1.27],[5.593,-1.13],[5.643,-0.97],[5.693,-0.73],[5.763,-1.37],[5.813,-0.93],[5.863,-1.13],[5.943,-1.17],[5.993,-0.73],[6.063,-1.07],[6.113,-1.33],[6.163,-0.63],[6.213,-0.97],[6.283,-1.27],[6.343,-0.97],[6.393,-1.13],[6.463,-0.73],[6.513,-0.93],[6.583,-1.17],[6.643,-0.93],[6.713,-1.17],[6.763,-0.77],[6.823,-1.07],[6.883,-0.87],[6.943,-1.23],[7.013,-0.97],[7.083,-1.17],[7.143,-0.83],[7.193,-0.57],[7.263,-1.03],[7.313,-0.83],[7.383,-1.23],[7.473,-0.97],
[7.643,0.67],[7.693,0.47],[7.743,1.17],[7.793,0.57],[7.843,0.93],[7.893,0.27],[7.943,0.73],[7.993,1.17],[8.043,0.27],[8.093,0.93],[8.143,1.13],[8.193,0.47],[8.243,0.93],[8.293,0.73],[8.343,0.33],[8.393,0.97],[8.443,0.57],[8.493,0.27],[8.543,0.77],[8.593,1.07],[8.643,0.27],[8.693,0.63],[8.743,0.93],[8.793,0.37],[8.843,1.13],[8.893,0.67],[8.943,0.27],[8.993,0.73],[9.043,1.07],[9.093,0.43],[9.143,0.73],[9.193,0.33],[9.243,1.13],[9.293,0.87],[9.343,0.57],[9.393,0.87],[9.443,0.33],[9.493,0.63],[9.593,0.93],[9.693,0.57],
[11.033,-0.37],[11.083,-0.53],[11.133,-1.17],[11.173,-0.63],[11.213,-0.97],[11.263,-1.27],[11.313,-0.77],[11.363,-1.13],[11.413,-0.67],[11.463,-1.13],[11.513,-1.37],[11.563,-0.73],[11.613,-1.13],[11.663,-1.43],[11.713,-1.17],[11.763,-0.73],[11.813,-1.17],[11.863,-1.03],[11.913,-1.17],[11.963,-0.97],[12.013,-0.83],
[12.213,0.67],[12.263,1.07],[12.313,0.43],[12.363,0.87],[12.413,0.57],[12.463,1.13],[12.513,0.83],[12.563,0.47],[12.613,1.13],[12.663,0.43],[12.713,0.77],[12.763,0.97],[12.813,0.63],[12.863,1.23],[12.913,0.43],[12.963,0.93],[13.013,0.57],[13.063,0.73],[13.113,1.13],[13.163,0.63],[13.213,0.43],[13.263,0.93],[13.313,0.67],[13.363,1.13],[13.413,0.53],[13.483,0.83],
[9.663,-0.43],[9.763,0.17],[9.863,-0.37],[9.963,0.53],[10.063,-0.63],[10.163,0.23],[10.263,0.63],[10.363,-0.43],[10.463,0.07],[10.563,-0.33],[10.663,0.23],[10.763,0.63],[10.813,-0.43]
];

// ---------- drawing ----------
const FONT = '"Liberation Serif", "Times New Roman", Times, "DejaVu Serif", serif';
const W = 537, ML = 133, MR = 15;
const BLUE = "#0a0ad0", RED = "#ff2a10";
const xMinor = d3.range(0, 14.001, 0.5);
const yMinor = d3.range(-25, 26).map(i => i / 10);

function panel(el, {dots, avg, cum, height, marginTop, marginBottom, legend, xLabelOffset, subDy}) {
  const innerH = height - marginTop - marginBottom;
  const innerW = W - ML - MR;
  const tickOpts = {stroke: "black", strokeWidth: 1.3};
  const svg = Plot.plot({
    width: W, height, marginLeft: ML, marginRight: MR, marginTop, marginBottom,
    x: {domain: [0, 14]},
    y: {domain: [-2.5, 2.5]},
    style: {fontFamily: FONT, fontSize: "22px", color: "black", background: "white", overflow: "visible"},
    marks: [
      Plot.dot(dots, {x: d => d[0], y: d => d[1], symbol: "square", r: 1.0, fill: "black", stroke: null}),
      Plot.ruleY([0], {stroke: "black", strokeWidth: 1}),
      Plot.ruleY([keplerian], {stroke: "black", strokeWidth: 1.6, strokeDasharray: "14,9"}),
      Plot.line(cum, {x: d => d[0], y: d => d[1], stroke: RED, strokeWidth: 2.6}),
      Plot.line(avg, {x: d => d[0], y: d => d[1], stroke: BLUE, strokeWidth: 2.6}),
      Plot.tickX(xMinor, {x: d => d, insetTop: innerH - 5, ...tickOpts}),
      Plot.tickX(xMinor, {x: d => d, insetBottom: innerH - 5, ...tickOpts}),
      Plot.tickX(xTicks, {x: d => d, insetTop: innerH - 9, ...tickOpts}),
      Plot.tickX(xTicks, {x: d => d, insetBottom: innerH - 9, ...tickOpts}),
      Plot.tickY(yMinor, {y: d => d, insetRight: innerW - 5, ...tickOpts}),
      Plot.tickY(yMinor, {y: d => d, insetLeft: innerW - 5, ...tickOpts}),
      Plot.tickY(yTicks, {y: d => d, insetRight: innerW - 10, ...tickOpts}),
      Plot.tickY(yTicks, {y: d => d, insetLeft: innerW - 10, ...tickOpts}),
      Plot.frame({stroke: "black", strokeWidth: 2}),
      Plot.axisX({ticks: xTicks, tickSize: 0, tickPadding: 18, label: null, tickFormat: d => String(d)}),
      Plot.axisY({ticks: yTicks, tickSize: 0, tickPadding: 8, label: null, tickFormat: d => yTickLabels[yTicks.indexOf(d)]})
    ]
  });
  svg.setAttribute("font-family", FONT);
  el.appendChild(svg);
  const s = d3.select(svg);
  s.selectAll('g[aria-label="y-axis tick label"] text').each(function() {
    if (this.textContent !== "0") {
      d3.select(this).append("tspan").attr("dy", "-0.42em").attr("font-size", "15px").text(yTickExponent);
    }
  });
  const g = s.append("g").attr("font-family", FONT).attr("fill", "black").attr("text-anchor", "start");
  // x-axis label
  const xb = height - marginBottom + xLabelOffset;
  const xl = g.append("text").attr("x", 301).attr("y", xb).attr("font-size", "24px").attr("text-anchor", "start");
  xl.append("tspan").attr("font-style", "italic").text("t");
  xl.append("tspan").text("/Ω");
  xl.append("tspan").attr("font-size", "14px").attr("dy", -8).text("−1");
  xl.append("tspan").attr("font-size", "14px").attr("dx", -14).attr("dy", subDy).text("K");
  // y-axis label
  const yc = marginTop + innerH / 2;
  const yl = g.append("text").attr("transform", `translate(31,${yc}) rotate(-90)`).attr("text-anchor", "middle").attr("font-size", "24px");
  yl.append("tspan").attr("font-style", "italic").text("l");
  yl.append("tspan").attr("font-style", "italic").attr("font-size", "13px").attr("dy", 5).text("z");
  // legend
  const styles = [{stroke: BLUE, dash: null}, {stroke: RED, dash: null}, {stroke: "black", dash: "14,9"}];
  legendLabels.forEach((lab, i) => {
    const y = legend.y + i * 26;
    g.append("line").attr("x1", legend.x).attr("x2", legend.x + 41).attr("y1", y).attr("y2", y)
      .attr("stroke", styles[i].stroke).attr("stroke-width", i === 2 ? 1.6 : 2.2).attr("stroke-dasharray", styles[i].dash);
    g.append("text").attr("x", legend.x + 58).attr("y", y + 8).attr("font-size", "24px").attr("text-anchor", "start").text(lab);
  });
}

panel(document.getElementById("p1"), {dots: dotsTop.concat(dotsTopMore, dotsTopExtra), avg: avgTop, cum: cumTop, height: 522, marginTop: 8, marginBottom: 69, legend: {x: 327, y: 368}, xLabelOffset: 56, subDy: 19});
panel(document.getElementById("p2"), {dots: dotsBottom.concat(dotsBottomMore, dotsBottomExtra), avg: avgBottom, cum: cumBottom, height: 520, marginTop: 9, marginBottom: 65, legend: {x: 152, y: 380}, xLabelOffset: 56, subDy: 15});
</script>
</body></html>
